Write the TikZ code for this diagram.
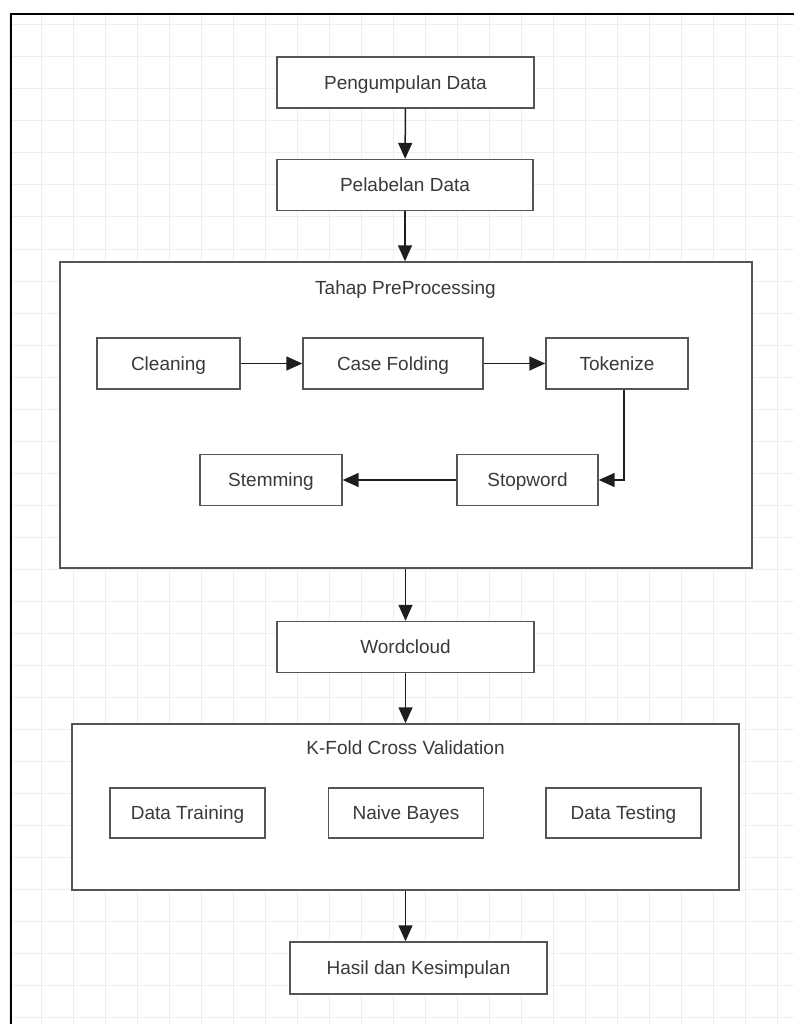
\documentclass[tikz,border=0pt]{standalone}
\usepackage{fontspec}
\setsansfont{Liberation Sans}
\usetikzlibrary{arrows.meta,calc}
\definecolor{FlowInk}{HTML}{1E1E1E}
\definecolor{FlowText}{HTML}{3A3A3A}
\definecolor{FlowEdge}{HTML}{555555}
\definecolor{FlowGrid}{HTML}{EEEEEE}
\tikzset{
  every node/.style={font=\sffamily\fontsize{19}{23}\selectfont, text=FlowText},
  stage/.style={draw=FlowEdge, line width=1.4pt, fill=white, minimum height=51pt, inner sep=0pt,
    text height=13.6pt, text depth=0pt},
  panel/.style={draw=FlowEdge, line width=1.5pt, fill=white, inner sep=0pt},
  gridline/.style={draw=FlowGrid, line width=1pt},
  pageframe/.style={draw=black, line width=2pt},
  flow/.style={-{Triangle[length=16pt,width=14pt]}, draw=FlowInk, line width=1.5pt},
}

\begin{document}
\begin{tikzpicture}[x=1pt, y=-1pt]
  \useasboundingbox (0,0) rectangle (794,1024);
  \fill[white] (0,0) rectangle (794,1024);
  % Background grid
  \foreach \gx in {0,...,24} {
    \draw[gridline] ({9.3+32*\gx},14) -- ({9.3+32*\gx},1024);
  }
  \foreach \gy in {0,...,31} {
    \draw[gridline] (10,{25+32*\gy}) -- (794,{25+32*\gy});
  }
  \draw[pageframe] (794,14) -- (10.5,14) -- (10.5,1024);
  % Main column
  \node[stage, minimum width=257pt] (kumpul) at (405.5,82.5) {Pengumpulan Data};
  \node[stage, minimum width=256pt] (label) at (405,185) {Pelabelan Data};
  % Preprocessing panel
  \node[panel, minimum width=692pt, minimum height=306pt] (prepro) at (405.75,415) {};
  \node[text height=13.6pt, text depth=0pt] (preproTitle) at (405.5,288) {Tahap PreProcessing};
  \node[stage, minimum width=143pt] (cleaning) at (168.5,363.5) {Cleaning};
  \node[stage, minimum width=180pt] (casefold) at (393,363.5) {Case Folding};
  \node[stage, minimum width=142pt] (tokenize) at (617,363.5) {Tokenize};
  \node[stage, minimum width=141pt] (stopword) at (527.5,480) {Stopword};
  \node[stage, minimum width=142pt] (stemming) at (271,480) {Stemming};
  \node[stage, minimum width=257pt] (wordcloud) at (405.5,647) {Wordcloud};
  % K-Fold panel
  \node[panel, minimum width=667pt, minimum height=166pt] (kfold) at (405.5,807) {};
  \node[text height=13.6pt, text depth=0pt] (kfoldTitle) at (405.5,748) {K-Fold Cross Validation};
  \node[stage, minimum width=155pt, minimum height=50pt] (training) at (187.5,813) {Data Training};
  \node[stage, minimum width=155pt, minimum height=50pt] (bayes) at (406,813) {Naive Bayes};
  \node[stage, minimum width=155pt, minimum height=50pt] (testing) at (623.5,813) {Data Testing};
  \node[stage, minimum width=257pt, minimum height=52pt] (hasil) at (418.5,968) {Hasil dan Kesimpulan};
  % Connectors
  \draw[flow] (kumpul) -- (label);
  \draw[flow] (label) -- (prepro.north -| label.south);
  \draw[flow] (cleaning) -- (casefold);
  \draw[flow] (casefold) -- (tokenize);
  \draw[flow] ([xshift=7pt]tokenize.south) |- (stopword.east);
  \draw[flow] (stopword) -- (stemming);
  \draw[flow] (prepro.south -| wordcloud.north) -- (wordcloud);
  \draw[flow] (wordcloud) -- (kfold.north -| wordcloud.south);
  \draw[flow] (kfold.south -| wordcloud.south) -- (hasil.north -| wordcloud.south);
\end{tikzpicture}
\end{document}
